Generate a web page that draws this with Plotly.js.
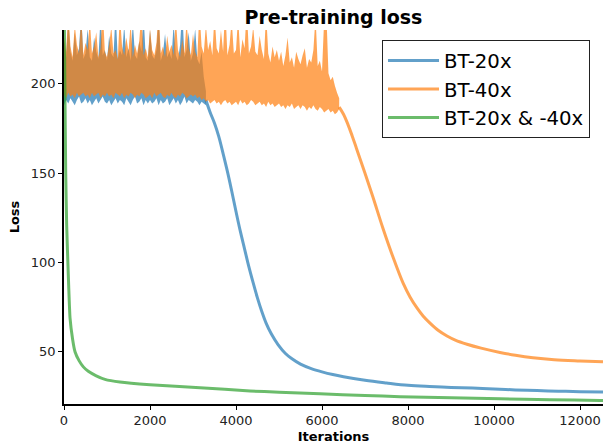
<!DOCTYPE html>
<html>
<head>
<meta charset="utf-8">
<script src="https://cdn.plot.ly/plotly-3.0.1.min.js"></script>
<style>html,body{margin:0;padding:0;background:#fff;}#chart{width:604px;height:444px;}</style>
</head>
<body>
<div id="chart"></div>
<script>
// ---- data ----
// iterations of the noisy plateau samples
const noiseIter = [0,50,100,150,200,250,300,350,400,450,500,550,600,650,700,750,800,850,900,950,
  1000,1050,1100,1150,1200,1250,1300,1350,1400,1450,1500,1550,1600,1650,1700,1750,1800,1850,1900,1950,
  2000,2050,2100,2150,2200,2250,2300,2350,2400,2450,2500,2550,2600,2650,2700,2750,2800,2850,2900,2950,
  3000,3050,3100,3150,3200,3250,3300,3350,3400,3450,3500,3550,3600,3650,3700,3750,3800,3850,3900,3950,
  4000,4050,4100,4150,4200,4250,4300,4350,4400,4450,4500,4550,4600,4650,4700,4750,4800,4850,4900,4950,
  5000,5050,5100,5150,5200,5250,5300,5350,5400,5450,5500,5550,5600,5650,5700,5750,5800,5850,5900,5950,
  6000,6050,6100,6150,6200,6250,6300,6350,6400];

// BT-20x noisy plateau: upper and lower edge of the noise (first 67 iterations)
const bt20NoiseHigh = [224,215,236,218,213,229,216,220,240,214,
  217,231,215,213,226,218,214,238,216,219,
  213,227,217,215,241,214,219,216,233,215,
  220,213,235,216,214,224,218,239,215,213,
  230,216,214,219,237,213,217,228,215,218,
  214,234,216,213,222,242,215,219,229,213,
  217,231,214,211,218,204,196];
const bt20NoiseLow = [188,191,189,192,190,188,191,193,189,190,
  192,189,191,188,190,192,189,191,193,190,
  189,191,188,190,192,189,191,190,188,192,
  190,188,191,193,189,190,192,188,191,189,
  191,189,190,192,188,191,189,190,192,188,
  190,192,189,191,188,190,193,189,191,190,
  189,191,190,188,190,189,188];
// BT-20x after the plateau
const bt20Iter = [3300,3400,3500,3600,3700,3800,3900,4000,4100,4200,4300,4400,4500,4600,4700,4820,4977,5150,5302,5500,5750,
  6000,6250,6500,7000,7500,8000,8500,9000,9500,10000,10500,11000,11500,12000,12535];
const bt20Loss = [191,184,178,170.5,161,151,140,128.5,117.5,107.5,97.5,88.5,80,72.5,66,60,54,49,46,43,40.5,
  38.7,37.2,36,34,32.5,31.2,30.5,30,29.6,29.1,28.6,28.2,27.9,27.6,27.4];

// BT-40x noisy plateau: upper and lower edge of the noise (all of noiseIter)
const bt40NoiseHigh = [226,218,241,221,215,233,222,217,238,216,
  223,219,236,217,221,229,215,220,243,218,
  215,222,232,217,219,214,239,221,216,226,
  218,234,215,222,217,224,240,216,220,215,
  231,219,216,223,242,217,221,215,227,218,
  222,216,237,219,215,225,217,235,220,216,
  228,218,215,241,221,217,233,219,224,216,
  239,220,217,230,218,244,216,222,236,217,
  219,238,215,225,220,243,217,221,232,218,
  216,227,219,214,240,217,212,221,215,219,
  213,218,210,216,226,212,215,209,218,214,
  211,216,220,209,214,212,219,238,210,213,
  207,236,241,206,202,204,199,195,192];
const bt40NoiseLow = [194,192,195,193,194,192,195,193,194,195,
  193,194,192,195,193,194,195,192,194,193,
  195,193,194,192,195,194,193,195,192,194,
  193,195,194,192,194,193,195,194,192,193,
  194,192,195,193,194,195,193,192,194,193,
  195,193,192,194,193,195,194,192,193,194,
  193,194,192,193,191,192,190,191,189,190,
  191,189,190,188,190,191,189,190,188,189,
  190,188,191,189,190,188,189,191,190,188,
  189,190,188,189,187,190,188,189,187,188,
  189,187,188,186,188,187,189,186,187,188,
  186,188,187,185,187,186,188,186,185,187,
  186,184,185,186,184,185,183,184,186];
// BT-40x after the plateau
const bt40Iter = [6400,6500,6600,6700,6800,6900,7000,7186,7419,7651,7884,8050,8209,8350,8512,8700,8907,9100,9372,9700,10140,10500,10907,11400,12000,12535];
const bt40Loss = [187,183,177.5,171,164,157,150,136.5,119,103,88.5,80.5,74.5,70,66,62,58.8,56.5,54.2,52,49.6,48,46.6,45.5,44.8,44.3];

// BT-20x & -40x
const bothIter = [0,20,40,62,100,140,200,256,350,450,565,750,953,1300,2000,3163,4326,5000,5953,7000,7814,9000,10140,11300,12465,12535];
const bothLoss = [260,200,150,121,93,69,57,50,45,41.5,39,36.5,34.5,33,31.5,29.8,28,27.3,26.4,25.5,24.8,24.2,23.6,23.1,22.7,22.7];

const seriesNames = ['BT-20x','BT-40x','BT-20x & -40x'];
const xTicks = [0,2000,4000,6000,8000,10000,12000];
const yTicks = [50,100,150,200];

// ---- styling ----
const cBlue = 'rgba(31,119,180,0.7)';
const cOrange = 'rgba(255,127,14,0.7)';
const cGreen = 'rgba(44,160,44,0.7)';
const font = 'DejaVu Sans, Arial, sans-serif';

// closed noise band (upper edge forward, lower edge back)
function band(iter, high, low) {
  const xs = iter.slice(0, high.length);
  return {x: xs.concat(xs.slice().reverse()), y: high.concat(low.slice().reverse())};
}
const b20 = band(noiseIter, bt20NoiseHigh, bt20NoiseLow);
const b40 = band(noiseIter, bt40NoiseHigh, bt40NoiseLow);

const traces = [
  {x: b20.x, y: b20.y, mode:'none', fill:'toself', fillcolor:cBlue, line:{width:0, simplify:false},
   legendgroup:'a', showlegend:false, hoverinfo:'skip'},
  {x: bt20Iter, y: bt20Loss, mode:'lines', name: seriesNames[0], line:{color:cBlue, width:3, shape:'spline', smoothing:1},
   legendgroup:'a'},
  {x: b40.x, y: b40.y, mode:'none', fill:'toself', fillcolor:cOrange, line:{width:0, simplify:false},
   legendgroup:'b', showlegend:false, hoverinfo:'skip'},
  {x: bt40Iter, y: bt40Loss, mode:'lines', name: seriesNames[1], line:{color:cOrange, width:3, shape:'spline', smoothing:1},
   legendgroup:'b'},
  {x: bothIter, y: bothLoss, mode:'lines', name: seriesNames[2], line:{color:cGreen, width:3, shape:'spline', smoothing:0.5},
   legendgroup:'c'}
];

const layout = {
  width: 604, height: 444,
  margin: {l:64, r:1, t:30, b:40},
  paper_bgcolor:'#fff', plot_bgcolor:'#fff',
  font: {family: font, size: 13, color:'#222'},
  title: {text:'<b>Pre-training loss</b>', font:{family:font, size:19, color:'#000'},
          x:0.5, xref:'paper', xanchor:'center', y:0.962, yref:'container', yanchor:'middle'},
  xaxis: {range:[0,12535], tickvals:xTicks, ticktext:xTicks.map(String), showgrid:false, zeroline:false,
          showline:true, linecolor:'#000', linewidth:1.8, ticks:'outside', ticklen:4, tickwidth:1, tickcolor:'#000',
          title:{text:'<b>Iterations</b>', font:{family:font, size:13, color:'#000'}, standoff:4}},
  yaxis: {range:[20.7,230.2], tickvals:yTicks, ticktext:yTicks.map(String), showgrid:false, zeroline:false,
          showline:true, linecolor:'#000', linewidth:1.8, ticks:'outside', ticklen:4, tickwidth:1, tickcolor:'#000',
          title:{text:'<b>Loss</b>', font:{family:font, size:13, color:'#000'}, standoff:8}},
  showlegend: true,
  legend: {x:0.59, y:0.973, xanchor:'left', yanchor:'top', bgcolor:'#fff', bordercolor:'#222', borderwidth:1,
           font:{family:font, size:19.7, color:'#000'}, traceorder:'normal', itemwidth:51}
};

Plotly.newPlot('chart', traces, layout, {displayModeBar:false, staticPlot:true});
</script>
</body>
</html>
